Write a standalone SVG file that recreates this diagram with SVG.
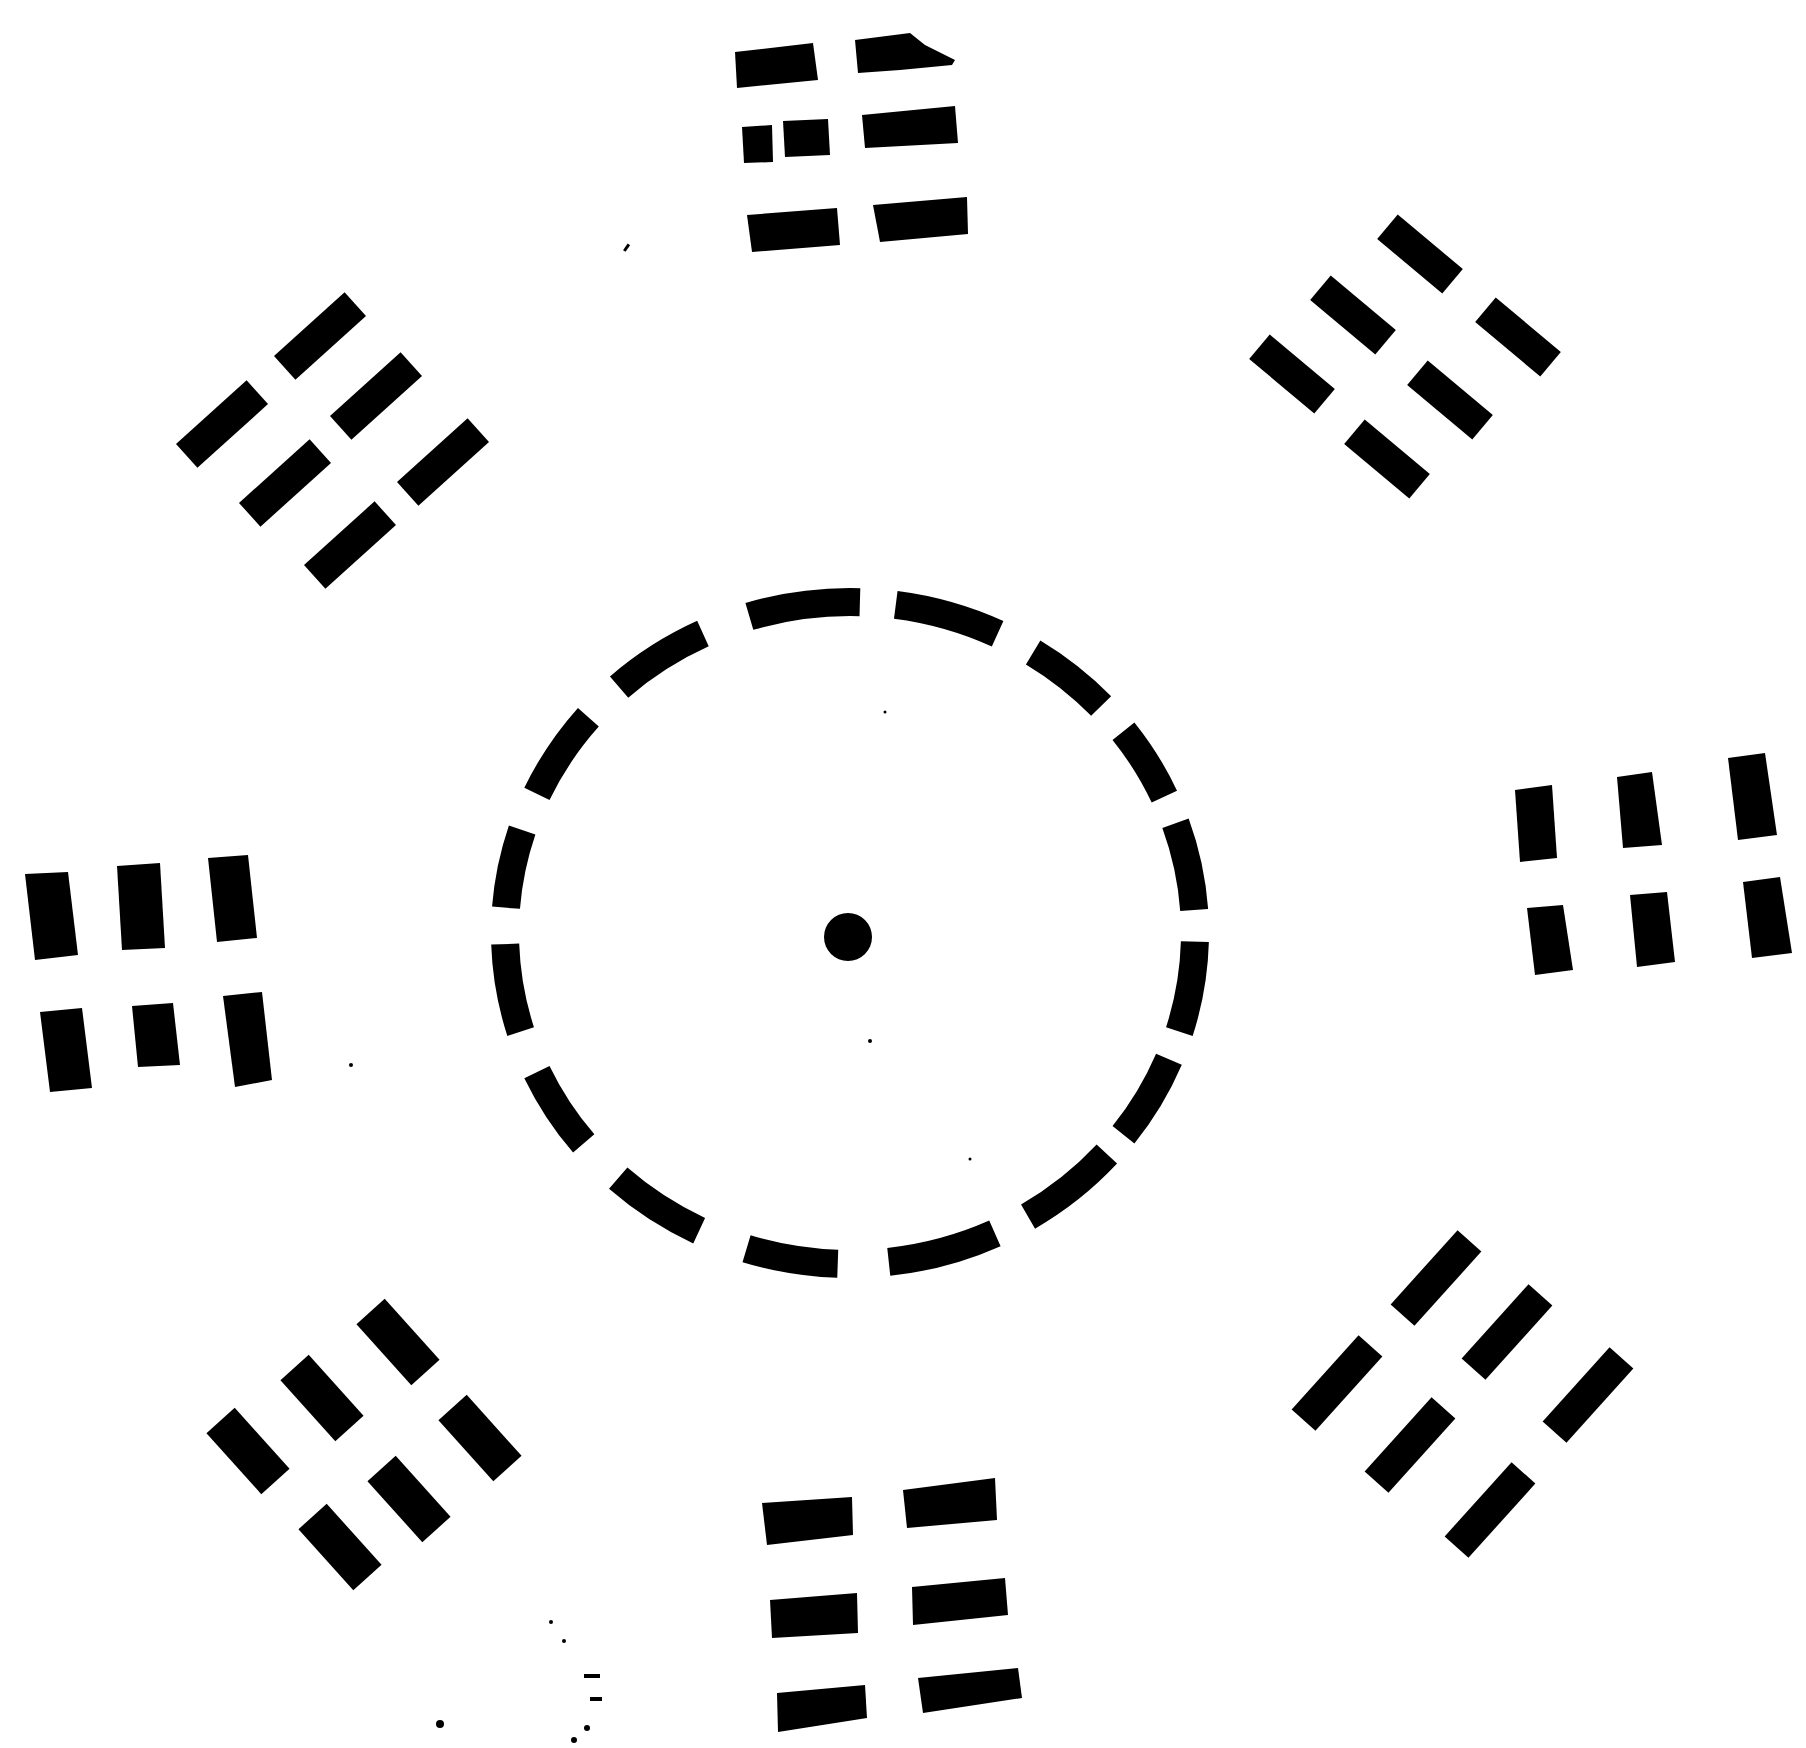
<svg xmlns="http://www.w3.org/2000/svg" width="1806" height="1748" viewBox="0 0 1806 1748">
<style>
.b{fill:#000;stroke:none}
.ring{fill:none;stroke:#000;stroke-width:28}
</style>
<rect width="1806" height="1748" fill="#fff"/>
<g id="ring">
<ellipse class="ring" cx="850" cy="933" rx="345" ry="331" pathLength="360" stroke-dasharray="0 1.5 15.5 5 15 4.3 17.1 6.3 18.7 8.7 15.7 8.6 16.4 8.3 14.5 7.4 15.1 6.2 13.5 6.6 15.7 7.3 16.9 8.4 19 6.1 18 6.8 14.7 5.7 13.1 4.9 15.1 3.9"/>
</g>
<g id="center-dot"><circle class="b" cx="848" cy="937" r="24"/></g>
<g id="trigram-top">
<polygon class="b" points="735,52 813,43 818,80 737,88"/>
<polygon class="b" points="855,40 910,33 925,45 955,60 952,65 900,70 858,73"/>
<polygon class="b" points="742,127 772,125 773,162 744,163"/>
<polygon class="b" points="783,121 828,119 830,155 785,157"/>
<polygon class="b" points="862,115 955,106 958,143 865,148"/>
<polygon class="b" points="747,215 837,208 840,245 752,252"/>
<polygon class="b" points="873,205 967,197 968,234 880,242"/>
</g>
<g id="trigram-upper-right">
<rect class="b" x="-42.5" y="-16" width="85" height="32" transform="translate(1420,254) rotate(40)"/>
<rect class="b" x="-42.5" y="-16" width="85" height="32" transform="translate(1518,337) rotate(40)"/>
<rect class="b" x="-42.5" y="-16" width="85" height="32" transform="translate(1353,315) rotate(40)"/>
<rect class="b" x="-42.5" y="-16" width="85" height="32" transform="translate(1450,400) rotate(40)"/>
<rect class="b" x="-42.5" y="-16" width="85" height="32" transform="translate(1292,374) rotate(40)"/>
<rect class="b" x="-42.5" y="-16" width="85" height="32" transform="translate(1387,459) rotate(40)"/>
</g>
<g id="trigram-right">
<polygon class="b" points="1515,790 1552,785 1557,858 1520,862"/>
<polygon class="b" points="1527,908 1563,905 1573,970 1535,975"/>
<polygon class="b" points="1617,777 1652,772 1662,845 1623,848"/>
<polygon class="b" points="1630,895 1667,892 1675,962 1637,967"/>
<polygon class="b" points="1728,758 1765,753 1777,835 1738,840"/>
<polygon class="b" points="1743,882 1780,877 1792,953 1752,958"/>
</g>
<g id="trigram-lower-right">
<rect class="b" x="-50" y="-16" width="100" height="32" transform="translate(1436,1278) rotate(-48)"/>
<rect class="b" x="-50" y="-16" width="100" height="32" transform="translate(1337,1383) rotate(-48)"/>
<rect class="b" x="-50" y="-16" width="100" height="32" transform="translate(1507,1332) rotate(-48)"/>
<rect class="b" x="-50" y="-16" width="100" height="32" transform="translate(1410,1445) rotate(-48)"/>
<rect class="b" x="-50" y="-16" width="100" height="32" transform="translate(1588,1395) rotate(-48)"/>
<rect class="b" x="-50" y="-16" width="100" height="32" transform="translate(1490,1510) rotate(-48)"/>
</g>
<g id="trigram-bottom">
<polygon class="b" points="762,1503 852,1497 853,1535 767,1545"/>
<polygon class="b" points="903,1490 995,1478 997,1520 907,1528"/>
<polygon class="b" points="770,1600 857,1593 858,1633 772,1638"/>
<polygon class="b" points="912,1587 1005,1578 1008,1615 913,1625"/>
<polygon class="b" points="777,1693 865,1685 867,1718 778,1732"/>
<polygon class="b" points="918,1678 1018,1668 1022,1698 923,1713"/>
</g>
<g id="trigram-lower-left">
<rect class="b" x="-41" y="-19" width="82" height="38" transform="translate(398,1342) rotate(48)"/>
<rect class="b" x="-41" y="-19" width="82" height="38" transform="translate(480,1438) rotate(48)"/>
<rect class="b" x="-41" y="-19" width="82" height="38" transform="translate(322,1398) rotate(48)"/>
<rect class="b" x="-41" y="-19" width="82" height="38" transform="translate(409,1499) rotate(48)"/>
<rect class="b" x="-41" y="-19" width="82" height="38" transform="translate(248,1451) rotate(48)"/>
<rect class="b" x="-41" y="-19" width="82" height="38" transform="translate(340,1547) rotate(48)"/>
</g>
<g id="trigram-left">
<polygon class="b" points="25,874 68,872 78,955 35,960"/>
<polygon class="b" points="117,866 160,863 165,948 122,950"/>
<polygon class="b" points="208,858 248,855 257,938 217,942"/>
<polygon class="b" points="40,1012 82,1008 92,1088 50,1092"/>
<polygon class="b" points="132,1006 173,1003 180,1065 138,1067"/>
<polygon class="b" points="223,996 262,992 272,1080 235,1087"/>
</g>
<g id="trigram-upper-left">
<rect class="b" x="-47.5" y="-16" width="95" height="32" transform="translate(320,336) rotate(-42)"/>
<rect class="b" x="-47.5" y="-16" width="95" height="32" transform="translate(222,424) rotate(-42)"/>
<rect class="b" x="-47.5" y="-16" width="95" height="32" transform="translate(376,396) rotate(-42)"/>
<rect class="b" x="-47.5" y="-16" width="95" height="32" transform="translate(285,483) rotate(-42)"/>
<rect class="b" x="-47.5" y="-16" width="95" height="32" transform="translate(443,462) rotate(-42)"/>
<rect class="b" x="-47.5" y="-16" width="95" height="32" transform="translate(350,545) rotate(-42)"/>
</g>
<g id="specks">
<rect class="b" x="625" y="244" width="3" height="8" transform="rotate(35 627 248)"/>
<circle class="b" cx="551" cy="1622" r="2"/>
<circle class="b" cx="564" cy="1641" r="2"/>
<rect class="b" x="584" y="1674" width="16" height="4"/>
<rect class="b" x="590" y="1697" width="12" height="4"/>
<circle class="b" cx="587" cy="1728" r="3"/>
<circle class="b" cx="574" cy="1740" r="3"/>
<circle class="b" cx="440" cy="1724" r="4"/>
<circle class="b" cx="351" cy="1065" r="2"/>
<circle class="b" cx="885" cy="712" r="1.5"/>
<circle class="b" cx="870" cy="1041" r="2"/>
<circle class="b" cx="970" cy="1159" r="1.5"/>
</g>
</svg>
